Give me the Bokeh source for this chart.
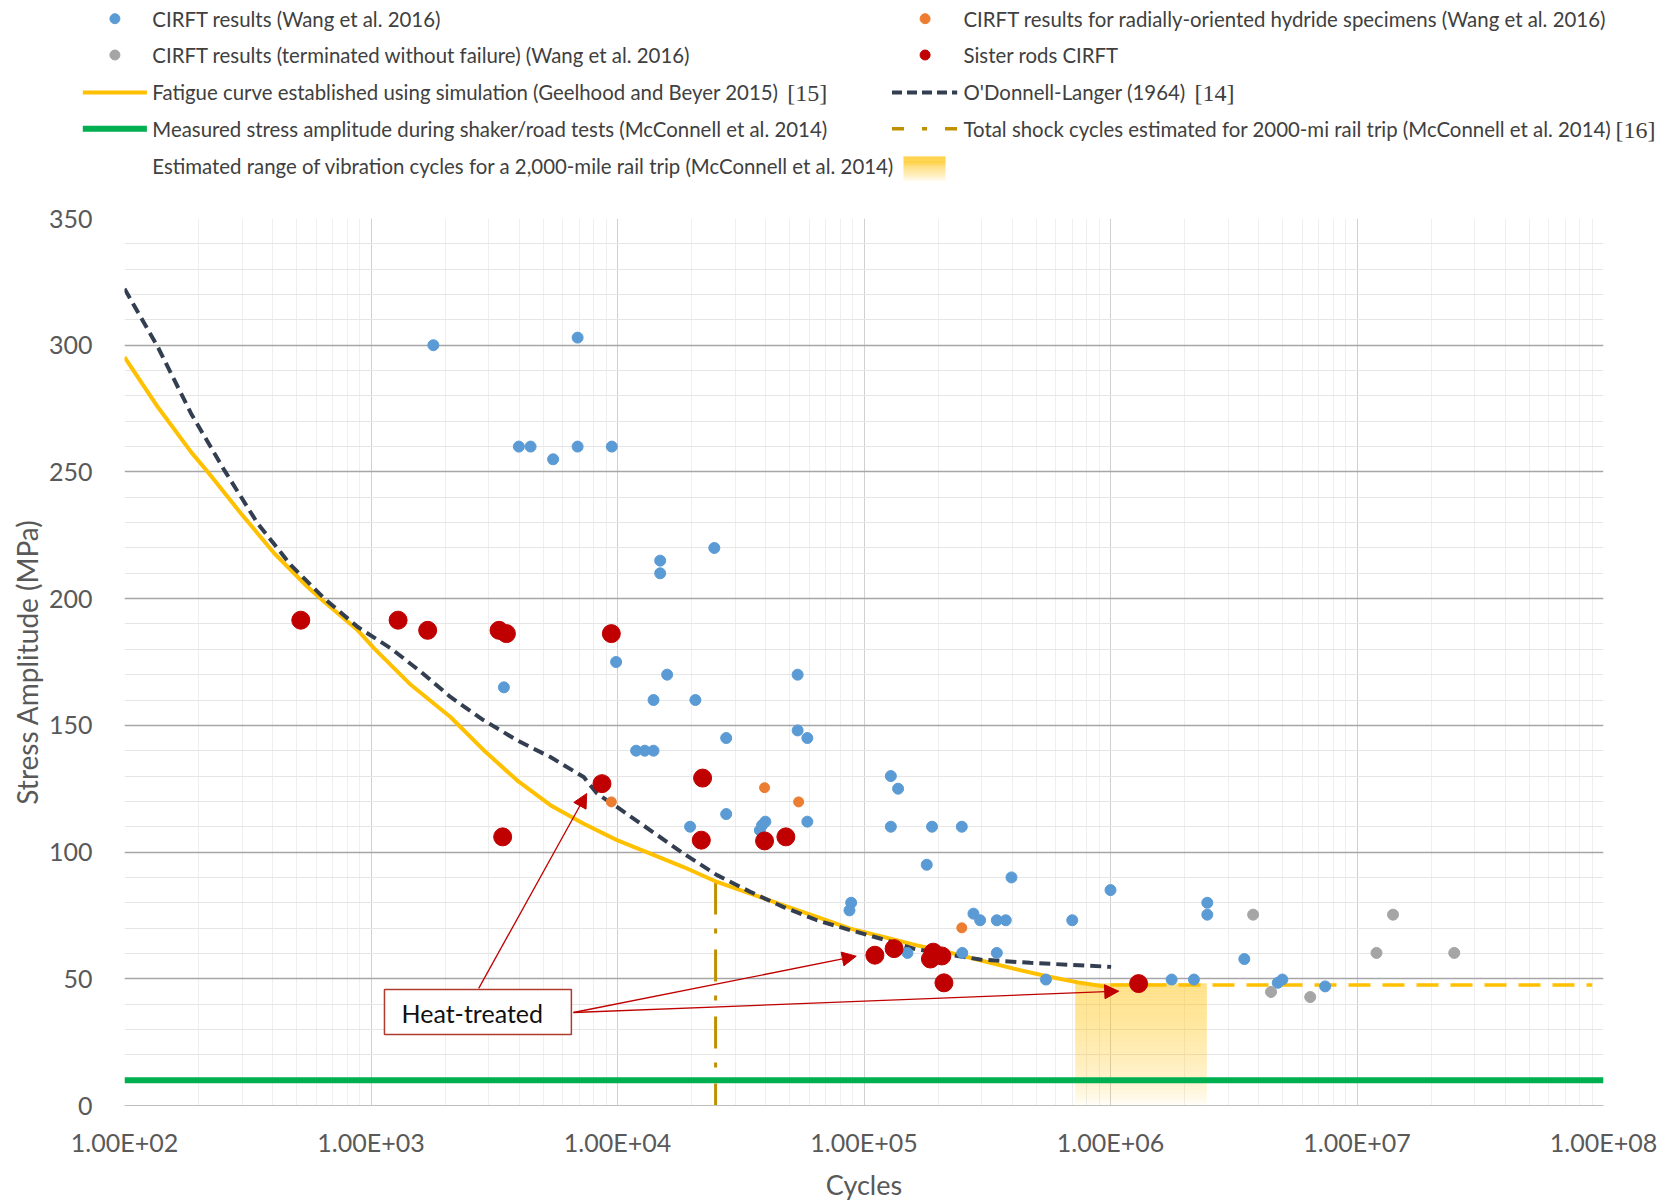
import numpy as np
from bokeh.plotting import figure
from bokeh.models import Range1d, FixedTicker, CustomJSTickFormatter, Arrow, NormalHead
from bokeh.layouts import column
from bokeh.embed import file_html
from bokeh.resources import INLINE
from bokeh.core.properties import value

# ---------------- data ----------------
blue_cycles = [1790, 6890, 3980, 4440, 5480, 6890, 9480, 14900, 14900, 24700,
               3460, 9870, 15900, 14000, 20700, 11900, 12900, 14000, 27600,
               53800, 53800, 58900, 19700, 27600, 37800, 38600, 39800, 58900,
               87300, 88700, 128500, 137500, 128500, 188800, 179700, 249300,
               396600, 278000, 295900, 345800, 376000, 150100, 250300, 345800,
               547200, 699500, 1.0e6, 1.77e6, 2.18e6, 2.47e6, 2.47e6, 3.49e6,
               4.77e6, 4.98e6, 7.43e6]
blue_stress = [300, 303, 260, 260, 255, 260, 260, 215, 210, 220,
               165, 175, 170, 160, 160, 140, 140, 140, 145,
               170, 148, 145, 110, 115, 108.6, 110.6, 112, 112,
               77, 80, 130, 125, 110, 110, 95, 110,
               90, 75.7, 73.1, 73.1, 73.1, 60.2, 60.2, 60.2,
               49.7, 73.1, 85, 49.7, 49.7, 80, 75.3, 57.8,
               48.4, 49.7, 47]

orange_cycles = [9440, 39500, 54300, 249300]
orange_stress = [119.8, 125.4, 119.8, 70.1]

grey_cycles = [3.79e6, 4.48e6, 6.46e6, 1.2e7, 1.4e7, 2.48e7]
grey_stress = [75.3, 44.8, 42.8, 60.2, 75.3, 60.2]

red_cycles = [519, 1288, 1698, 3307, 3543, 9440, 3421, 8650, 22140, 21880,
              39500, 48200, 110700, 132500, 186000, 191000, 207000, 211000, 1.3e6]
red_stress = [191.5, 191.5, 187.5, 187.5, 186.2, 186.2, 106, 127, 129.2, 104.7,
              104.4, 106, 59.3, 61.9, 57.8, 60.5, 59, 48.4, 48.1]

geelhood_cycles = [100, 136.5, 186.4, 217.8, 297.4, 405.7, 553.6, 647.6, 883.8, 1032,
                   1450, 2100, 2866, 3913, 5343, 7293, 9950, 13590, 18540, 25340,
                   34570, 47200, 64430, 87900, 120000, 163900, 217000, 296000,
                   404600, 552000, 753600, 966000]
geelhood_stress = [295.3, 275.6, 257.8, 250, 233.5, 217.8, 204.6, 198.7, 187.5, 180.3,
                   166, 153.3, 140.2, 128.3, 118.5, 111.2, 104.7, 99.4, 94.1, 88.2,
                   83.6, 79, 74.4, 69.8, 66.5, 63.2, 60.6, 57.3,
                   54, 51, 48.4, 46.8]

odl_cycles = [100, 136.5, 186.4, 254.4, 347.2, 474.3, 647.6, 883.8, 1206, 1600,
              2100, 2866, 3913, 5343, 7293, 8260, 9950, 13590, 18540, 25340,
              34570, 47200, 64430, 87900, 120000, 160000, 296000, 472300, 1006000]
odl_stress = [322.3, 299.3, 273, 250.6, 229.6, 213.1, 200, 188.8, 180.3, 171,
              161.2, 152, 144.1, 137.5, 129.6, 123.1, 117.8, 108.6, 99.4, 90.9,
              84.3, 78.3, 73.1, 69.2, 65.5, 61.8, 57.6, 56.3, 54.7]

endurance_cycles = [1.0e6, 9.0e7]
endurance_stress = [47.5, 47.5]

measured_cycles = [1e2, 1e8]
measured_stress = [10, 10]

shock_cycles = [2.5e4, 2.5e4]
shock_stress = [88, 0]

vib_range_cycles = [7.19e5, 2.46e6]
vib_range_stress = [0, 48.2]

# annotation: "Heat-treated" box and arrows
heat_box_cycles = [1134, 6500]
heat_box_stress = [28, 45.8]
heat_text_pos = (2575, 36.5)
arrow_x_start = [2735, 6627, 6627]
arrow_y_start = [46.2, 36.7, 36.7]
arrow_x_end = [7500, 93000, 1.08e6]
arrow_y_end = [123.1, 58.9, 45.1]

x_ticks = [1e2, 1e3, 1e4, 1e5, 1e6, 1e7, 1e8]
x_tick_labels = ["1.00E+02", "1.00E+03", "1.00E+04", "1.00E+05",
                 "1.00E+06", "1.00E+07", "1.00E+08"]
y_ticks = [0, 50, 100, 150, 200, 250, 300, 350]

x_minor = [m * t for t in x_ticks[:-1] for m in range(2, 10)]
y_minor = [v for v in range(0, 351, 10) if v % 50 != 0]

FONT = "Lato"
TXT = "#404040"
AX = "#595959"

# ---------------- legend panel ----------------
LW, LH = 1676, 204
leg = figure(width=LW, height=LH, x_range=Range1d(0, LW), y_range=Range1d(LH, 0),
             toolbar_location=None, output_backend="svg", min_border=0,
             x_axis_location=None, y_axis_location=None)
leg.frame_align = False
leg.grid.visible = False
leg.outline_line_color = None

rows = [18.2, 54.5, 91.9, 128.3, 165.7]
lmx, llx0, llx1, ltx = 114.4, 82.3, 146.4, 151.8
rmx, rlx0, rlx1, rtx = 924.6, 891.5, 956.7, 963.0

leg.scatter([lmx], [rows[0]], size=10, fill_color="#5B9BD5", line_color="#5B9BD5")
leg.scatter([lmx], [rows[1]], size=10, fill_color="#A5A5A5", line_color="#A5A5A5")
leg.line([llx0, llx1], [rows[2], rows[2]], line_color="#FFC000", line_width=4)
leg.line([llx0, llx1], [rows[3], rows[3]], line_color="#00B050", line_width=6)
leg.scatter([rmx], [rows[0]], size=10, fill_color="#ED7D31", line_color="#ED7D31")
leg.scatter([rmx], [rows[1]], size=10, fill_color="#C00000", line_color="#C00000")
leg.line([rlx0, rlx1], [rows[2], rows[2]], line_color="#333F50", line_width=4, line_dash="10 5")
leg.line([rlx0, rlx1], [rows[3], rows[3]], line_color="#BF9000", line_width=3.5, line_dash="12 18 5 18")

left_texts = ["CIRFT results (Wang et al. 2016)",
              "CIRFT results (terminated without failure) (Wang et al. 2016)",
              "Fatigue curve established using simulation (Geelhood and Beyer 2015)",
              "Measured stress amplitude during shaker/road tests (McConnell et al. 2014)",
              "Estimated range of vibration cycles for a 2,000-mile rail trip (McConnell et al. 2014)"]
right_texts = ["CIRFT results for radially-oriented hydride specimens (Wang et al. 2016)",
               "Sister rods CIRFT",
               "O'Donnell-Langer (1964)",
               "Total shock cycles estimated for 2000-mi rail trip (McConnell et al. 2014)"]
leg.text(x=[ltx] * len(left_texts), y=rows[:len(left_texts)], text=left_texts,
         text_font=value(FONT), text_font_size="20.4px", text_color=TXT,
         text_baseline="middle", text_align="left")
leg.text(x=[rtx] * len(right_texts), y=rows[:len(right_texts)], text=right_texts,
         text_font=value(FONT), text_font_size="20.4px", text_color=TXT,
         text_baseline="middle", text_align="left")
refs = ["[15]", "[14]", "[16]"]
ref_x = [786.7, 1194.0, 1615.0]
ref_y = [rows[2] + 1, rows[2] + 1, rows[3] + 1]
leg.text(x=ref_x, y=ref_y, text=refs, text_font=value("Liberation Serif"),
         text_font_size="24px", text_color=TXT, text_baseline="middle", text_align="left")

# legend gradient swatch
n = 24
sw_edges = np.linspace(182, 156, n + 1)
sw_alpha = 0.9 * (np.arange(n) + 0.5) / n
leg.quad(left=903, right=945, bottom=sw_edges[:-1], top=sw_edges[1:],
         fill_color="#FFC000", fill_alpha=sw_alpha.tolist(), line_color=None)

# ---------------- main plot ----------------
p = figure(width=1676, height=1000, x_axis_type="log",
           x_range=Range1d(1e2, 1e8), y_range=Range1d(0, 350),
           toolbar_location=None, output_backend="svg",
           min_border_left=124, min_border_right=73, min_border_top=14, min_border_bottom=99)
p.frame_align = False
p.outline_line_color = None
p.background_fill_color = "white"

p.xaxis.ticker = FixedTicker(ticks=x_ticks, minor_ticks=x_minor)
p.yaxis.ticker = FixedTicker(ticks=y_ticks, minor_ticks=y_minor)
p.xaxis.formatter = CustomJSTickFormatter(args=dict(tvals=x_ticks, tlabels=x_tick_labels), code="""
let best = 0;
for (let i = 0; i < tvals.length; i++) {
  if (Math.abs(Math.log10(tvals[i]) - Math.log10(tick)) < Math.abs(Math.log10(tvals[best]) - Math.log10(tick))) best = i;
}
return tlabels[best];
""")

for ax in (p.xaxis, p.yaxis):
    ax.major_label_text_font = FONT
    ax.major_label_text_font_size = "25px"
    ax.major_label_text_color = AX
    ax.axis_label_text_font = FONT
    ax.axis_label_text_color = AX
    ax.axis_label_text_font_style = "normal"
    ax.major_tick_line_color = None
    ax.minor_tick_line_color = None
    ax.major_tick_out = 0
    ax.major_tick_in = 0
p.xaxis.axis_label = "Cycles"
p.yaxis.axis_label = "Stress Amplitude (MPa)"
p.xaxis.axis_label_text_font_size = "27px"
p.yaxis.axis_label_text_font_size = "28px"
p.xaxis.axis_line_color = "#BFBFBF"
p.yaxis.axis_line_color = None
p.xaxis.major_label_standoff = 17
p.xaxis.axis_label_standoff = 8
p.yaxis.major_label_standoff = 28
p.yaxis.axis_label_standoff = 2

p.xgrid.grid_line_color = "#D0D0D0"
p.xgrid.grid_line_width = 1
p.xgrid.minor_grid_line_color = "#EFEFEF"
p.ygrid.grid_line_color = "#A6A6A6"
p.ygrid.grid_line_width = 1.5
p.ygrid.minor_grid_line_color = "#E6E6E6"

# shaded vibration range (vertical gradient)
ng = 40
g_edges = np.linspace(vib_range_stress[0], vib_range_stress[1], ng + 1)
g_t = (np.arange(ng) + 0.5) / ng
g_alpha = 0.48 * g_t ** 0.6
p.quad(left=vib_range_cycles[0], right=vib_range_cycles[1], bottom=g_edges[:-1], top=g_edges[1:],
       fill_color="#FFC000", fill_alpha=g_alpha.tolist(), line_color=None)

p.line(measured_cycles, measured_stress, line_color="#00B050", line_width=6)
p.line(shock_cycles, shock_stress, line_color="#BF9000", line_width=3, line_dash="32 14 5 16")
p.line(geelhood_cycles, geelhood_stress, line_color="#FFC000", line_width=4)
p.line(endurance_cycles, endurance_stress, line_color="#FFC000", line_width=3.5, line_dash="22 12")
p.line(odl_cycles, odl_stress, line_color="#333F50", line_width=4, line_dash="11 6")

p.scatter(blue_cycles, blue_stress, size=11, fill_color="#5B9BD5", line_color="#5B9BD5")
p.scatter(orange_cycles, orange_stress, size=10, fill_color="#ED7D31", line_color="#ED7D31")
p.scatter(grey_cycles, grey_stress, size=11, fill_color="#A5A5A5", line_color="#A5A5A5")
p.scatter(red_cycles, red_stress, size=18, fill_color="#C00000", line_color="#C00000")

for xs, ys, xe, ye in zip(arrow_x_start, arrow_y_start, arrow_x_end, arrow_y_end):
    p.add_layout(Arrow(end=NormalHead(size=14, fill_color="#C00000", line_color="#C00000"),
                       x_start=xs, y_start=ys, x_end=xe, y_end=ye,
                       line_color="#C00000", line_width=1.3))

p.quad(left=[heat_box_cycles[0]], right=[heat_box_cycles[1]],
       bottom=[heat_box_stress[0]], top=[heat_box_stress[1]],
       fill_color="white", line_color="#B03A2E", line_width=1.5)
p.text(x=[heat_text_pos[0]], y=[heat_text_pos[1]], text=["Heat-treated"],
       text_font=value(FONT), text_font_size="25px", text_color="#111111",
       text_align="center", text_baseline="middle")

layout = column(leg, p)
open("out.html", "w").write(file_html(layout, INLINE))
